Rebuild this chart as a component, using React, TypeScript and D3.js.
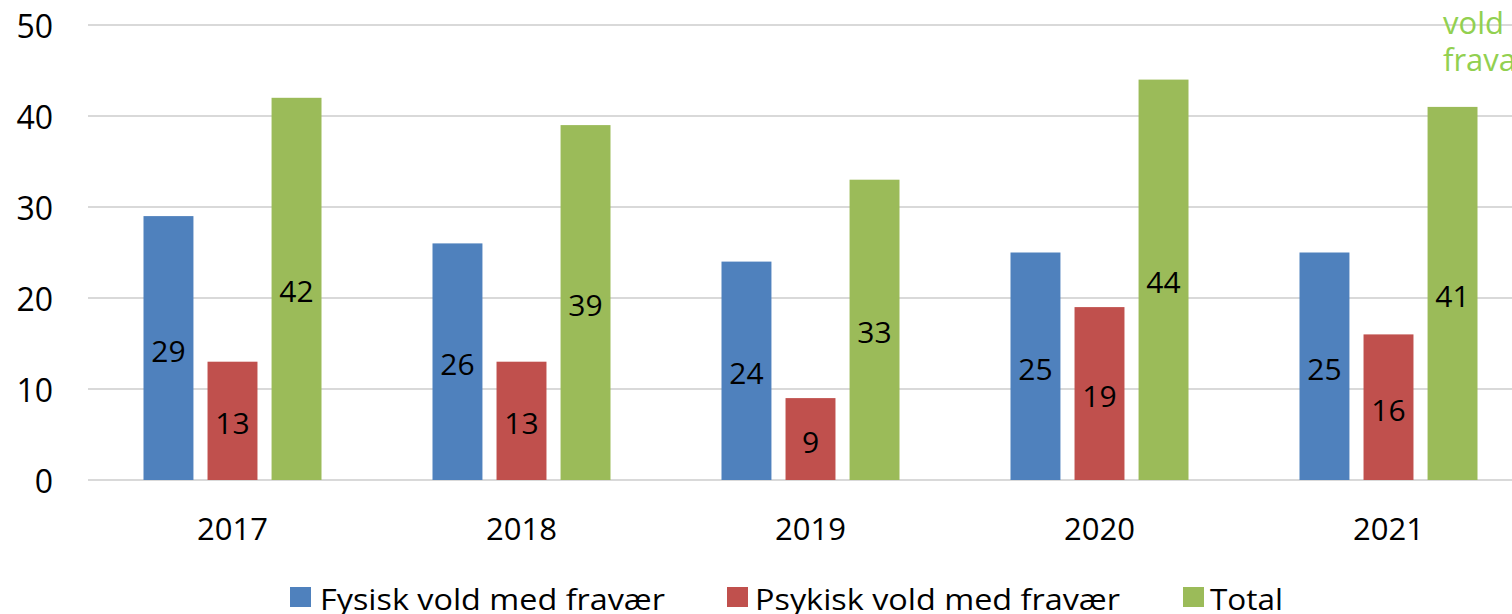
import React from "react";
import * as d3 from "d3";

const years = ["2017", "2018", "2019", "2020", "2021"];
const seriesNames = ["Fysisk vold med fravær", "Psykisk vold med fravær", "Total"];
const fysisk = [29, 26, 24, 25, 25];
const psykisk = [13, 13, 9, 19, 16];
const total = [42, 39, 33, 44, 41];
const yTicks = [0, 10, 20, 30, 40, 50];
const colors = ["#4f81bd", "#c0504d", "#9bbb59"];

const width = 1512;
const height = 614;
const margin = { left: 88, top: 25, bottom: 134 };
const font = "'Open Sans', 'Noto Sans', sans-serif";

const App = () => {
  const series = [fysisk, psykisk, total];
  const step = 289;
  const x = d3
    .scaleBand()
    .domain(years)
    .range([margin.left, margin.left + step * years.length])
    .paddingInner(0)
    .paddingOuter(0);
  const inner = d3
    .scaleBand()
    .domain(seriesNames)
    .range([55.5, 233.5])
    .paddingInner(0.22);
  const y = d3
    .scaleLinear()
    .domain([0, 50])
    .range([height - margin.bottom, margin.top]);

  // legend layout
  const legend = [
    { sx: 290, tx: 320, len: 345 },
    { sx: 727, tx: 755, len: 365 },
    { sx: 1183, tx: 1210, len: 73 },
  ];

  return (
    <svg
      width={width}
      height={height}
      style={{ position: "absolute", left: 0, top: 0 }}
    >
      <rect width={width} height={height} fill="#fff" />
      {yTicks.map((t) => (
        <g key={t}>
          <line
            x1={margin.left}
            x2={width}
            y1={y(t)}
            y2={y(t)}
            stroke="#d9d9d9"
            strokeWidth={2}
          />
          <text
            x={53}
            y={y(t)}
            textAnchor="end"
            dominantBaseline="central"
            fontFamily={font}
            fontSize={32}
            fill="#000"
          >
            {t}
          </text>
        </g>
      ))}
      {years.map((yr, i) => (
        <g key={yr}>
          {series.map((vals, s) => {
            const bx = (x(yr) as number) + (inner(seriesNames[s]) as number);
            const bw = inner.bandwidth();
            const top = y(vals[i]);
            return (
              <g key={s}>
                <rect
                  x={bx}
                  y={top}
                  width={bw}
                  height={y(0) - top}
                  fill={colors[s]}
                />
                <text
                  x={bx + bw / 2}
                  y={(top + y(0)) / 2 + 2}
                  textAnchor="middle"
                  dominantBaseline="central"
                  fontFamily={font}
                  fontSize={30}
                  fill="#000"
                >
                  {vals[i]}
                </text>
              </g>
            );
          })}
          <text
            x={(x(yr) as number) + x.bandwidth() / 2}
            y={528}
            textAnchor="middle"
            dominantBaseline="central"
            fontFamily={font}
            fontSize={31}
            fill="#000"
          >
            {yr}
          </text>
        </g>
      ))}
      <text x={1443} y={34} fontFamily={font} fontSize={31} fill="#92d050">
        vold
      </text>
      <text x={1443} y={71} fontFamily={font} fontSize={31} fill="#92d050">
        frava
      </text>
      {legend.map((p, i) => (
        <g key={i}>
          <rect x={p.sx} y={587} width={21} height={20} fill={colors[i]} />
          <text
            x={p.tx}
            y={598}
            dominantBaseline="central"
            fontFamily={font}
            fontSize={29}
            textLength={p.len}
            lengthAdjust="spacingAndGlyphs"
            fill="#000"
          >
            {seriesNames[i]}
          </text>
        </g>
      ))}
    </svg>
  );
};

export default App;
